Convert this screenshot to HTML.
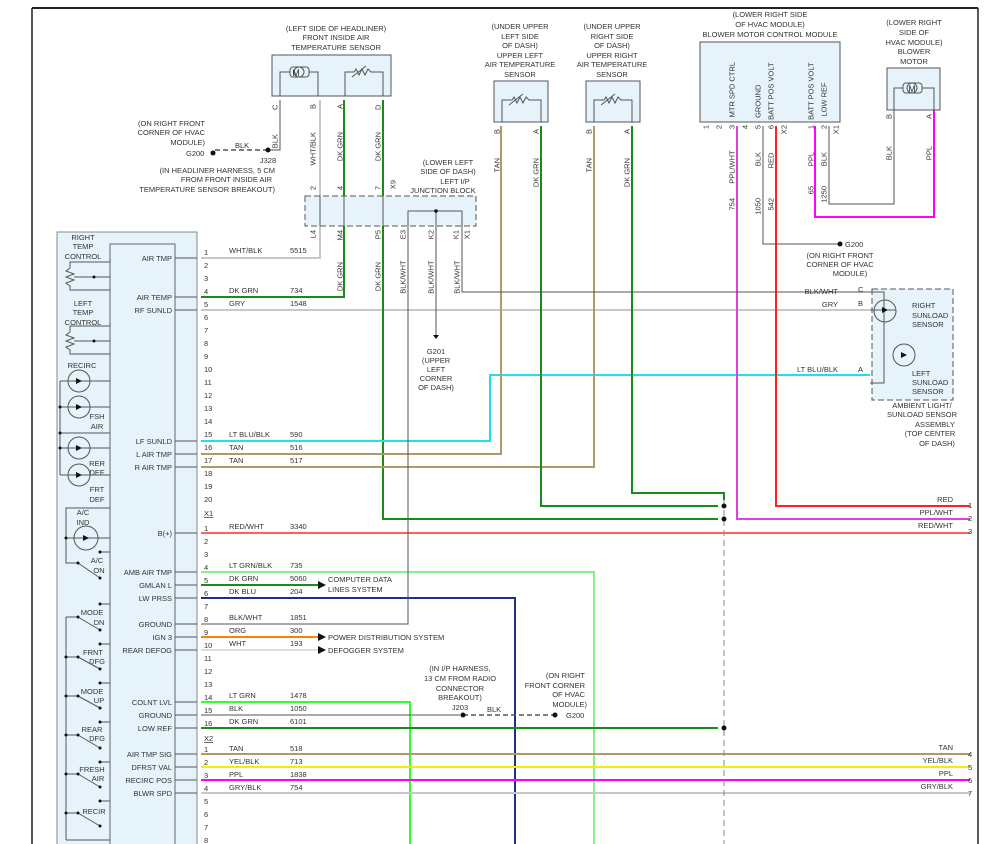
<!DOCTYPE html>
<html><head><meta charset="utf-8"><style>
body{margin:0;background:#fff}
svg{display:block;font-family:"Liberation Sans",sans-serif;font-size:7.5px;fill:#333}
.w{fill:none;stroke-width:2}
.k{fill:none;stroke:#555;stroke-width:1}
.v text{writing-mode:tb;transform-box:fill-box;transform-origin:center;transform:rotate(180deg)}
</style></head><body>
<svg width="986" height="844" viewBox="0 0 986 844" xmlns="http://www.w3.org/2000/svg">
<!-- frame -->
<line x1="32" y1="8" x2="978" y2="8" stroke="#222" stroke-width="2"/>
<line x1="32" y1="8" x2="32" y2="844" stroke="#222" stroke-width="1.5"/>
<line x1="978" y1="8" x2="978" y2="844" stroke="#222" stroke-width="1.5"/>

<!-- HVAC control module -->
<rect x="57" y="232" width="140" height="620" fill="#e6f3fb" stroke="#888"/>
<rect x="110" y="244" width="65" height="610" fill="#e6f3fb" stroke="#666"/>
<g text-anchor="middle">
<text x="83" y="240">RIGHT</text><text x="83" y="249">TEMP</text><text x="83" y="259">CONTROL</text>
<text x="83" y="306">LEFT</text><text x="83" y="315">TEMP</text><text x="83" y="325">CONTROL</text>
<text x="82" y="368">RECIRC</text>
<text x="97" y="419">FSH</text><text x="97" y="429">AIR</text>
<text x="97" y="466">RER</text><text x="97" y="475">DEF</text>
<text x="97" y="492">FRT</text><text x="97" y="502">DEF</text>
<text x="83" y="515">A/C</text><text x="83" y="525">IND</text>
<text x="97" y="563">A/C</text><text x="99" y="573">ON</text>
<text x="92" y="615">MODE</text><text x="99" y="625">DN</text>
<text x="93" y="655">FRNT</text><text x="97" y="664">DFG</text>
<text x="92" y="694">MODE</text><text x="99" y="703">UP</text>
<text x="92" y="732">REAR</text><text x="97" y="741">DFG</text>
<text x="92" y="772">FRESH</text><text x="98" y="781">AIR</text>
<text x="94" y="814">RECIR</text>
</g>
<g class="k">
<polyline points="110,258 110,262 70,262 70,268"/><polyline points="70,268 66,271 74,274 66,277 74,280 66,283 70,286 70,290 110,290"/><line x1="74" y1="277" x2="110" y2="277"/>
<polyline points="110,322 110,326 70,326 70,332"/><polyline points="70,332 66,335 74,338 66,341 74,344 66,347 70,350 70,354 110,354"/><line x1="74" y1="341" x2="110" y2="341"/>
<circle cx="79" cy="381" r="11"/><circle cx="79" cy="407" r="11"/><circle cx="79" cy="448" r="11"/><circle cx="79" cy="475" r="11"/><circle cx="86" cy="538" r="12"/>
<line x1="60" y1="381" x2="110" y2="381"/><line x1="60" y1="407" x2="110" y2="407"/><line x1="60" y1="433" x2="110" y2="433"/><line x1="60" y1="448" x2="110" y2="448"/><line x1="60" y1="475" x2="110" y2="475"/>
<line x1="60" y1="381" x2="60" y2="475"/>
<polyline points="110,508 66,508 66,563 78,563"/><line x1="66" y1="538" x2="110" y2="538"/><line x1="100" y1="552" x2="110" y2="552"/>
<line x1="78" y1="563" x2="100" y2="578"/>
<line x1="66" y1="617" x2="66" y2="840"/><line x1="66" y1="840" x2="110" y2="840"/>
<line x1="78" y1="617" x2="100" y2="630"/><line x1="100" y1="604" x2="110" y2="604"/><line x1="66" y1="617" x2="78" y2="617"/>
<line x1="78" y1="657" x2="100" y2="669"/><line x1="100" y1="644" x2="110" y2="644"/><line x1="66" y1="657" x2="78" y2="657"/>
<line x1="78" y1="696" x2="100" y2="708"/><line x1="100" y1="683" x2="110" y2="683"/><line x1="66" y1="696" x2="78" y2="696"/>
<line x1="78" y1="735" x2="100" y2="748"/><line x1="100" y1="722" x2="110" y2="722"/><line x1="66" y1="735" x2="78" y2="735"/>
<line x1="78" y1="774" x2="100" y2="787"/><line x1="100" y1="762" x2="110" y2="762"/><line x1="66" y1="774" x2="78" y2="774"/>
<line x1="78" y1="813" x2="100" y2="826"/><line x1="100" y1="801" x2="110" y2="801"/><line x1="66" y1="813" x2="78" y2="813"/>
</g>
<g fill="#111">
<path d="M76 378l6 3-6 3zM76 404l6 3-6 3zM76 445l6 3-6 3zM76 472l6 3-6 3zM83 535l6 3-6 3z"/>
<circle cx="94" cy="277" r="1.5"/><circle cx="94" cy="341" r="1.5"/>
<circle cx="60" cy="407" r="1.5"/><circle cx="60" cy="433" r="1.5"/><circle cx="60" cy="448" r="1.5"/>
<circle cx="66" cy="538" r="1.5"/><circle cx="100" cy="552" r="1.5"/><circle cx="78" cy="563" r="1.5"/><circle cx="100" cy="578" r="1.5"/>
<circle cx="100" cy="604" r="1.5"/><circle cx="78" cy="617" r="1.5"/><circle cx="100" cy="630" r="1.5"/>
<circle cx="100" cy="644" r="1.5"/><circle cx="66" cy="657" r="1.5"/><circle cx="78" cy="657" r="1.5"/><circle cx="100" cy="669" r="1.5"/>
<circle cx="100" cy="683" r="1.5"/><circle cx="66" cy="696" r="1.5"/><circle cx="78" cy="696" r="1.5"/><circle cx="100" cy="708" r="1.5"/>
<circle cx="100" cy="722" r="1.5"/><circle cx="66" cy="735" r="1.5"/><circle cx="78" cy="735" r="1.5"/><circle cx="100" cy="748" r="1.5"/>
<circle cx="100" cy="762" r="1.5"/><circle cx="66" cy="774" r="1.5"/><circle cx="78" cy="774" r="1.5"/><circle cx="100" cy="787" r="1.5"/>
<circle cx="100" cy="801" r="1.5"/><circle cx="66" cy="813" r="1.5"/><circle cx="78" cy="813" r="1.5"/><circle cx="100" cy="826" r="1.5"/>
</g>
<g text-anchor="end">
<text x="172" y="261">AIR TMP</text><text x="172" y="300">AIR TEMP</text><text x="172" y="313">RF SUNLD</text>
<text x="172" y="444">LF SUNLD</text><text x="172" y="457">L AIR TMP</text><text x="172" y="470">R AIR TMP</text>
<text x="172" y="536">B(+)</text><text x="172" y="575">AMB AIR TMP</text><text x="172" y="588">GMLAN L</text><text x="172" y="601">LW PRSS</text>
<text x="172" y="627">GROUND</text><text x="172" y="640">IGN 3</text><text x="172" y="653">REAR DEFOG</text>
<text x="172" y="705">COLNT LVL</text><text x="172" y="718">GROUND</text><text x="172" y="731">LOW REF</text>
<text x="172" y="757">AIR TMP SIG</text><text x="172" y="770">DFRST VAL</text><text x="172" y="783">RECIRC POS</text><text x="172" y="796">BLWR SPD</text>
</g>
<g class="k">
<path d="M175 258h22M175 297h22M175 310h22M175 441h22M175 454h22M175 467h22M175 533h22M175 572h22M175 585h22M175 598h22M175 624h22M175 637h22M175 650h22M175 702h22M175 715h22M175 728h22M175 754h22M175 767h22M175 780h22M175 793h22"/>
</g>
<g>
<text x="204" y="255">1</text><text x="204" y="268">2</text><text x="204" y="281">3</text><text x="204" y="294">4</text><text x="204" y="307">5</text><text x="204" y="320">6</text><text x="204" y="333">7</text><text x="204" y="346">8</text><text x="204" y="359">9</text><text x="204" y="372">10</text><text x="204" y="385">11</text><text x="204" y="398">12</text><text x="204" y="411">13</text><text x="204" y="424">14</text><text x="204" y="437">15</text><text x="204" y="450">16</text><text x="204" y="463">17</text><text x="204" y="476">18</text><text x="204" y="489">19</text><text x="204" y="502">20</text>
<text x="204" y="516" text-decoration="underline">X1</text>
<text x="204" y="531">1</text><text x="204" y="544">2</text><text x="204" y="557">3</text><text x="204" y="570">4</text><text x="204" y="583">5</text><text x="204" y="596">6</text><text x="204" y="609">7</text><text x="204" y="622">8</text><text x="204" y="635">9</text><text x="204" y="648">10</text><text x="204" y="661">11</text><text x="204" y="674">12</text><text x="204" y="687">13</text><text x="204" y="700">14</text><text x="204" y="713">15</text><text x="204" y="726">16</text>
<text x="204" y="741" text-decoration="underline">X2</text>
<text x="204" y="752">1</text><text x="204" y="765">2</text><text x="204" y="778">3</text><text x="204" y="791">4</text><text x="204" y="804">5</text><text x="204" y="817">6</text><text x="204" y="830">7</text><text x="204" y="843">8</text>
</g>
<g>
<text x="229" y="253">WHT/BLK</text><text x="290" y="253">5515</text>
<text x="229" y="293">DK GRN</text><text x="290" y="293">734</text>
<text x="229" y="306">GRY</text><text x="290" y="306">1548</text>
<text x="229" y="437">LT BLU/BLK</text><text x="290" y="437">590</text>
<text x="229" y="450">TAN</text><text x="290" y="450">516</text>
<text x="229" y="463">TAN</text><text x="290" y="463">517</text>
<text x="229" y="529">RED/WHT</text><text x="290" y="529">3340</text>
<text x="229" y="568">LT GRN/BLK</text><text x="290" y="568">735</text>
<text x="229" y="581">DK GRN</text><text x="290" y="581">5060</text>
<text x="229" y="594">DK BLU</text><text x="290" y="594">204</text>
<text x="229" y="620">BLK/WHT</text><text x="290" y="620">1851</text>
<text x="229" y="633">ORG</text><text x="290" y="633">300</text>
<text x="229" y="646">WHT</text><text x="290" y="646">193</text>
<text x="229" y="698">LT GRN</text><text x="290" y="698">1478</text>
<text x="229" y="711">BLK</text><text x="290" y="711">1050</text>
<text x="229" y="724">DK GRN</text><text x="290" y="724">6101</text>
<text x="229" y="751">TAN</text><text x="290" y="751">518</text>
<text x="229" y="764">YEL/BLK</text><text x="290" y="764">713</text>
<text x="229" y="777">PPL</text><text x="290" y="777">1838</text>
<text x="229" y="790">GRY/BLK</text><text x="290" y="790">754</text>
<text x="328" y="582">COMPUTER DATA</text><text x="328" y="592">LINES SYSTEM</text>
<text x="328" y="640">POWER DISTRIBUTION SYSTEM</text>
<text x="328" y="653">DEFOGGER SYSTEM</text>
</g>
<g class="w">
<polyline stroke="#c8c8c8" points="201,258 320,258 320,100"/>
<polyline stroke="#1a8a1a" points="201,297 344,297 344,100"/>
<polyline stroke="#c8c8c8" points="201,310 870,310"/>
<polyline stroke="#1a8a1a" points="383,100 383,519 718,519"/>
<polyline stroke="#20e0e8" points="201,441 490,441 490,375 870,375"/>
<polyline stroke="#b09a6a" points="201,454 501,454 501,126"/>
<polyline stroke="#b09a6a" points="201,467 594,467 594,126"/>
<polyline stroke="#1a8a1a" points="541,126 541,506 718,506"/>
<polyline stroke="#1a8a1a" points="632,126 632,493 724,493 724,500"/>
<polyline stroke="#ff6060" points="201,533 970,533"/>
<polyline stroke="#88f088" points="201,572 594,572 594,844"/>
<polyline stroke="#1a8a1a" points="201,585 318,585"/>
<polyline stroke="#203080" points="201,598 515,598 515,844"/>
<polyline stroke="#ff8000" points="201,637 318,637"/>
<polyline stroke="#ddd" points="201,650 318,650"/>
<polyline stroke="#30ff30" points="201,702 410,702 410,844"/>
<polyline stroke="#1a8a1a" points="201,728 718,728"/>
<polyline stroke="#b09a6a" points="201,754 970,754"/>
<polyline stroke="#f0f000" points="201,767 970,767"/>
<polyline stroke="#ff00ff" points="201,780 970,780"/>
<polyline stroke="#c8c8c8" points="201,793 970,793"/>
<polyline stroke="#ff2020" points="776,126 776,506 970,506"/>
<polyline stroke="#e040e0" points="737,126 737,519 970,519"/>
<polyline stroke="#ff00ff" points="815,126 815,217 934,217 934,110"/>
</g>
<g class="k" stroke-width="1.3">
<polyline points="201,624 408,624 408,226"/>
<polyline points="201,715 460,715"/>
<polyline points="462,226 462,292 870,292"/>
<polyline points="436,226 436,335"/>
<polyline points="280,100 280,150 268,150"/>
<polyline points="763,126 763,244 838,244"/>
<polyline points="829,126 829,204 894,204 894,110"/>
</g>
<line x1="724" y1="500" x2="724" y2="844" stroke="#888" stroke-dasharray="6,4"/>
<line x1="268" y1="150" x2="215" y2="150" stroke="#555" stroke-dasharray="5,3" stroke-width="1.5"/>
<line x1="463" y1="715" x2="555" y2="715" stroke="#555" stroke-dasharray="5,3" stroke-width="1.5"/>
<g fill="#111">
<circle cx="724" cy="506" r="2.5"/><circle cx="724" cy="519" r="2.5"/><circle cx="724" cy="728" r="2.5"/>
<circle cx="268" cy="150" r="2.5"/><circle cx="463" cy="715" r="2.5"/><circle cx="213" cy="153" r="2.5"/><circle cx="555" cy="715" r="2.5"/><circle cx="840" cy="244" r="2.5"/>
<path d="M318 581l8 4-8 4zM318 633l8 4-8 4zM318 646l8 4-8 4z"/>
<path d="M433 335h6l-3 4z"/>
</g>
<text x="235" y="148">BLK</text><text x="487" y="712">BLK</text>
<text x="566" y="718">G200</text><text x="186" y="156">G200</text>
<text x="845" y="247">G200</text>
<g text-anchor="middle">
<text x="436" y="354">G201</text><text x="436" y="363">(UPPER</text><text x="436" y="372">LEFT</text><text x="436" y="381">CORNER</text><text x="436" y="390">OF DASH)</text>
<text x="460" y="671">(IN I/P HARNESS,</text><text x="460" y="681">13 CM FROM RADIO</text><text x="460" y="691">CONNECTOR</text><text x="460" y="700">BREAKOUT)</text><text x="460" y="710">J203</text>
<text x="268" y="163">J328</text>
<text x="840" y="258">(ON RIGHT FRONT</text><text x="840" y="267">CORNER OF HVAC</text><text x="850" y="276">MODULE)</text>
</g>
<g text-anchor="end">
<text x="585" y="678">(ON RIGHT</text><text x="585" y="688">FRONT CORNER</text><text x="585" y="697">OF HVAC</text><text x="587" y="707">MODULE)</text>
<text x="205" y="126">(ON RIGHT FRONT</text><text x="205" y="135">CORNER OF HVAC</text><text x="205" y="145">MODULE)</text>
<text x="275" y="173">(IN HEADLINER HARNESS, 5 CM</text><text x="272" y="182">FROM FRONT INSIDE AIR</text><text x="275" y="192">TEMPERATURE SENSOR BREAKOUT)</text>
<text x="953" y="502">RED</text><text x="953" y="515">PPL/WHT</text><text x="953" y="528">RED/WHT</text>
<text x="953" y="750">TAN</text><text x="953" y="763">YEL/BLK</text><text x="953" y="776">PPL</text><text x="953" y="789">GRY/BLK</text>
<text x="838" y="294">BLK/WHT</text><text x="838" y="307">GRY</text><text x="838" y="372">LT BLU/BLK</text>
</g>
<g><text x="968" y="508">1</text><text x="968" y="521">2</text><text x="968" y="534">3</text><text x="968" y="757">4</text><text x="968" y="770">5</text><text x="968" y="783">6</text><text x="968" y="796">7</text>
<text x="858" y="292">C</text><text x="858" y="306">B</text><text x="858" y="372">A</text></g>

<g text-anchor="middle">
<text x="336" y="31">(LEFT SIDE OF HEADLINER)</text><text x="336" y="40">FRONT INSIDE AIR</text><text x="336" y="50">TEMPERATURE SENSOR</text>
<text x="520" y="29">(UNDER UPPER</text><text x="520" y="39">LEFT SIDE</text><text x="520" y="48">OF DASH)</text><text x="520" y="58">UPPER LEFT</text><text x="520" y="67">AIR TEMPERATURE</text><text x="520" y="77">SENSOR</text>
<text x="612" y="29">(UNDER UPPER</text><text x="612" y="39">RIGHT SIDE</text><text x="612" y="48">OF DASH)</text><text x="612" y="58">UPPER RIGHT</text><text x="612" y="67">AIR TEMPERATURE</text><text x="612" y="77">SENSOR</text>
<text x="770" y="17">(LOWER RIGHT SIDE</text><text x="770" y="27">OF HVAC MODULE)</text><text x="770" y="37">BLOWER MOTOR CONTROL MODULE</text>
<text x="914" y="25">(LOWER RIGHT</text><text x="914" y="35">SIDE OF</text><text x="914" y="45">HVAC MODULE)</text><text x="914" y="54">BLOWER</text><text x="914" y="64">MOTOR</text>
<text x="448" y="165">(LOWER LEFT</text><text x="448" y="174">SIDE OF DASH)</text><text x="455" y="184">LEFT I/P</text><text x="443" y="193">JUNCTION BLOCK</text>
<text x="922" y="408">AMBIENT LIGHT/</text><text x="922" y="417">SUNLOAD SENSOR</text><text x="935" y="427">ASSEMBLY</text><text x="930" y="436">(TOP CENTER</text><text x="937" y="446">OF DASH)</text>
</g>
<g fill="#e6f3fb" stroke="#555">
<rect x="272" y="55" width="119" height="41"/>
<rect x="494" y="81" width="54" height="41"/>
<rect x="586" y="81" width="54" height="41"/>
<rect x="700" y="42" width="140" height="80"/>
<rect x="887" y="68" width="53" height="42"/>
<rect x="305" y="196" width="171" height="30" stroke-dasharray="6,3"/>
<rect x="872" y="289" width="81" height="111" stroke-dasharray="6,3"/>
</g>
<g class="k">
<polyline points="280,96 280,72 290,72"/><polyline points="309,72 318,72 318,96"/><rect x="290" y="67" width="19" height="10" rx="3"/><circle cx="299" cy="72" r="5"/>
<polyline points="345,96 345,72 354,72 356,69 359,75 362,69 365,75 368,69 371,72 383,72 383,96"/><line x1="352" y1="77" x2="366" y2="66"/>
<polyline points="502,122 502,100 512,100 514,97 517,103 520,97 523,103 526,97 529,100 541,100 541,122"/><line x1="509" y1="105" x2="523" y2="94"/>
<polyline points="594,122 594,100 604,100 606,97 609,103 612,97 615,103 618,97 621,100 632,100 632,122"/><line x1="601" y1="105" x2="615" y2="94"/>
<polyline points="894,110 894,88 903,88"/><polyline points="922,88 934,88 934,110"/><rect x="903" y="83" width="19" height="10" rx="3"/><circle cx="912" cy="88" r="5"/>
<line x1="320" y1="196" x2="320" y2="226"/><line x1="344" y1="196" x2="344" y2="226"/><line x1="383" y1="196" x2="383" y2="226"/>
<polyline points="408,226 408,211 462,211 462,226"/><line x1="436" y1="211" x2="436" y2="226"/>
<polyline points="870,292 884,292 884,383 870,383"/><circle cx="885" cy="311" r="11"/><circle cx="904" cy="355" r="11"/><line x1="870" y1="310" x2="896" y2="310"/>
</g>
<path d="M882 307l6 3-6 3zM901 352l6 3-6 3z" fill="#111"/>
<circle cx="436" cy="211" r="1.8" fill="#111"/><circle cx="884" cy="310" r="1.8" fill="#111"/>
<text x="296" y="76" font-size="9" text-anchor="middle">M</text><text x="912" y="92" font-size="9" text-anchor="middle">M</text>
<g font-size="7.5">
<text x="912" y="308">RIGHT</text><text x="912" y="318">SUNLOAD</text><text x="912" y="327">SENSOR</text>
<text x="912" y="376">LEFT</text><text x="912" y="385">SUNLOAD</text><text x="912" y="394">SENSOR</text>
</g>
<g class="v">
<text x="275" y="104">C</text><text x="313" y="104">B</text><text x="340" y="104">A</text><text x="378" y="104">D</text>
<text x="275" y="134">BLK</text><text x="313" y="132">WHT/BLK</text><text x="340" y="132">DK GRN</text><text x="378" y="132">DK GRN</text>
<text x="313" y="186">2</text><text x="340" y="186">4</text><text x="378" y="186">7</text><text x="393" y="180">X9</text>
<text x="313" y="230">L4</text><text x="340" y="230">M4</text><text x="378" y="230">P5</text><text x="403" y="230">E3</text><text x="431" y="230">K2</text><text x="456" y="230">K1</text><text x="467" y="230">X1</text>
<text x="340" y="262">DK GRN</text><text x="378" y="262">DK GRN</text><text x="403" y="260">BLK/WHT</text><text x="431" y="260">BLK/WHT</text><text x="457" y="260">BLK/WHT</text>
<text x="497" y="129">B</text><text x="536" y="129">A</text><text x="589" y="129">B</text><text x="627" y="129">A</text>
<text x="497" y="158">TAN</text><text x="536" y="158">DK GRN</text><text x="589" y="158">TAN</text><text x="627" y="158">DK GRN</text>
<text x="706" y="125">1</text><text x="719" y="125">2</text><text x="732" y="125">3</text><text x="745" y="125">4</text><text x="758" y="125">5</text><text x="771" y="125">6</text><text x="784" y="125">X2</text><text x="811" y="125">1</text><text x="824" y="125">2</text><text x="836" y="125">X1</text>
<text x="732" y="62">MTR SPD CTRL</text><text x="758" y="84">GROUND</text><text x="771" y="62">BATT POS VOLT</text><text x="811" y="62">BATT POS VOLT</text><text x="824" y="82">LOW REF</text>
<text x="732" y="150">PPL/WHT</text><text x="758" y="152">BLK</text><text x="771" y="152">RED</text><text x="811" y="152">PPL</text><text x="824" y="152">BLK</text>
<text x="732" y="198">754</text><text x="758" y="198">1050</text><text x="771" y="198">542</text><text x="811" y="186">65</text><text x="824" y="186">1250</text>
<text x="889" y="114">B</text><text x="929" y="114">A</text><text x="889" y="146">BLK</text><text x="929" y="146">PPL</text>
</g>
</svg>
</body></html>
